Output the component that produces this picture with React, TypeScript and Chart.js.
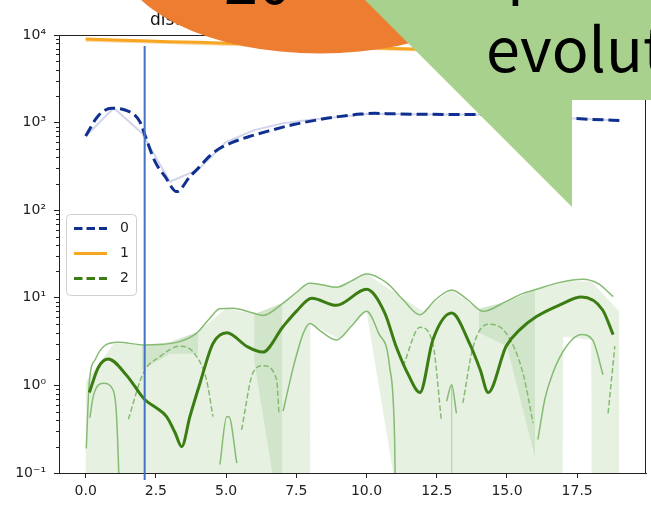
import React, { useEffect, useRef } from "react";
import { Chart, registerables } from "chart.js";

Chart.register(...registerables);

// ---------------- data ----------------
const xTickValues = [0, 2.5, 5, 7.5, 10, 12.5, 15, 17.5];
const yTickValues = [0.1, 1, 10, 100, 1000, 10000];
const yTickLabels = ["10⁻¹", "10⁰", "10¹", "10²", "10³", "10⁴"];
const legendLabels = ["0", "1", "2"];
const titleText = "distribution of the series over time";
const ellipseText = "20";
const calloutLines = ["profile", "evolution"];

const stepX = [0, 1, 2, 3, 4, 5, 6, 7, 8, 9, 10, 11, 12, 13, 14, 15, 16, 17, 18, 19];

// series 0 (navy)
const s0Raw = [700, 1470, 760, 211, 290, 600, 820, 980, 1080, 1160, 1250, 1250, 1240, 1235, 1230, 1195, 1165, 1130, 1095, 1055];
const s0SmoothX = [0, 0.45, 0.93, 1.4, 1.93, 2.11, 2.47, 2.83, 3.24, 3.71, 4.0, 4.43, 4.78, 5.2, 5.8, 6.56, 7.4, 8.16, 9.0, 9.8, 10.3, 11, 12, 13, 14, 15, 16, 17, 18, 19];
const s0SmoothY = [703, 1200, 1455, 1393, 1025, 720, 358, 241, 163, 241, 300, 420, 510, 590, 690, 810, 950, 1060, 1170, 1250, 1275, 1258, 1245, 1240, 1235, 1200, 1170, 1130, 1090, 1055];

// series 1 (orange)
const s1Line = [9000, 8780, 8620, 8400, 8250, 8040, 7880, 7690, 7540, 7350, 7210, 7030, 6890, 6720, 6590, 6430, 6310, 6150, 6030, 5880];
const s1Raw = [8600, 8450, 8250, 8100, 7900, 7750, 7550, 7400, 7250, 7080, 6950, 6780, 6640, 6480, 6350, 6200, 6080, 5930, 5800, 5680];

// series 2 (green) – mean
const meanX = [0.13, 0.45, 0.8, 1.46, 2.1, 2.53, 2.88, 3.18, 3.42, 3.71, 4.07, 4.53, 5.03, 5.73, 6.3, 7.03, 7.5, 8.05, 8.92, 10.0, 10.65, 11.05, 11.5, 11.9, 12.36, 13.03, 13.67, 14.05, 14.33, 14.97, 15.45, 16.05, 16.88, 17.65, 18.4, 18.78];
const meanY = [0.83, 1.6, 2.0, 1.3, 0.69, 0.55, 0.44, 0.29, 0.2, 0.44, 1.06, 3.0, 4.0, 2.8, 2.4, 4.7, 7.0, 9.9, 8.2, 12.5, 6.7, 2.8, 1.3, 0.83, 3.3, 6.7, 3.0, 1.5, 0.83, 2.8, 4.3, 6.1, 8.3, 10.2, 7.3, 3.8];

// upper bound
const upperX = [0.02, 0.13, 0.35, 0.65, 1.15, 2.1, 3.25, 3.95, 4.35, 4.78, 5.25, 5.95, 6.32, 7.03, 7.5, 7.98, 8.45, 8.92, 9.45, 10.0, 10.72, 11.3, 11.9, 12.45, 13.03, 13.6, 14.15, 14.97, 15.45, 16.05, 16.88, 17.7, 18.25, 18.78];
const upperY = [0.19, 1.1, 2.0, 2.8, 3.1, 2.9, 3.1, 3.95, 5.5, 7.5, 7.6, 6.7, 6.3, 8.7, 11.5, 14.7, 14.0, 13.2, 15.5, 18.7, 14.8, 9.5, 6.4, 9.5, 12.3, 9.5, 7.0, 9.1, 10.8, 12.5, 15.0, 16.3, 14.5, 10.3];

// lower bound (null = break)
const lowerX = [0.15, 0.27, 0.63, 0.98, 1.1, 1.25, 3, 4.78, 5.02, 5.1, 5.38, 6, 7.03, 7.4, 7.75, 7.98, 8.35, 8.92, 9.5, 10.0, 10.42, 10.82, 11.0, 11.05, 12, 12.85, 13.03, 13.2, 15, 16.1, 16.35, 16.63, 17.12, 17.65, 18.05, 18.42];
const lowerY = [0.43, 0.75, 1.06, 0.88, 0.44, 0.02, null, 0.125, 0.44, 0.44, 0.13, null, 0.51, 1.65, 3.95, 5.1, 4.2, 3.3, 4.9, 7.0, 4.0, 1.65, 0.24, 0.02, null, 0.66, 1.02, 0.48, null, 0.24, 0.7, 1.38, 2.8, 3.8, 3.3, 1.32];

// thin dashed (null = break)
const dashX = [1.52, 2.05, 2.65, 3.35, 3.83, 4.3, 4.53, 5, 5.55, 5.95, 6.32, 6.8, 6.88, 9, 11.3, 11.9, 12.36, 12.66, 13, 13.43, 13.8, 14.33, 14.97, 15.57, 15.93, 17, 18.6, 18.84];
const dashY = [0.41, 1.38, 2.14, 2.8, 2.4, 1.16, 0.44, null, 0.31, 1.38, 1.68, 1.16, 0.48, null, 1.65, 4.6, 3.0, 0.41, null, 0.63, 2.8, 5.0, 3.95, 1.38, 0.37, null, 0.48, 2.8];

// seam of the band
const seamX = [13.03, 13.03];
const seamY = [1.02, 0.01];

// shaded band (value ZERO = non-positive, falls off the log axis)
const ZERO = 1e-100;
const bandUpper = [1.1, 3.0, 2.9, 3.1, 4.1, 7.6, 6.5, 8.7, 14.7, 13.3, 18.7, 11.5, 7.0, 12.3, 7.5, 9.1, 12.3, 15.5, 15.3, 7.0];
const bandLower = [ZERO, ZERO, ZERO, ZERO, ZERO, ZERO, ZERO, ZERO, 5.1, 3.4, 7.0, 0.08, ZERO, ZERO, ZERO, ZERO, ZERO, 3.6, 3.3, ZERO];

// darker overlapping patches
const patchAX = [2, 3, 4];
const patchATop = [2.9, 3.1, 4.1];
const patchABottom = [1.5, 2.3, 2.3];
const patchBX = [6, 7];
const patchBTop = [6.5, 8.7];
const patchBBottom = [1.9, 0.02];
const patchCX = [14, 15, 16];
const patchCTop = [7.5, 9.1, 12.3];
const patchCBottom = [4.0, 2.8, 0.15];

// vertical marker position (data x)
const markerX = 2.1;

// ---------------- styles ----------------
const W = 651;
const H = 505;
const NAVY = "#10308f";
const ORANGE = "#f6a623";
const GREEN_DARK = "#3b7d12";
const GREEN_THIN = "#86bb73";
const BAND = "rgba(90,160,60,0.15)";
const NONE = "rgba(0,0,0,0)";

const pts = (xs: number[], ys: (number | null)[]) => xs.map((x, i) => ({ x, y: ys[i] }));

const ln = (data: any, o: any) => ({
  type: "line",
  data,
  pointRadius: 0,
  pointHoverRadius: 0,
  fill: false,
  spanGaps: false,
  tension: 0,
  ...o,
});

const datasets: any[] = [
  ln(pts(s0SmoothX, s0SmoothY), { borderColor: NAVY, borderWidth: 3, borderDash: [11, 5], cubicInterpolationMode: "monotone" }),
  ln(pts(stepX, s0Raw), { borderColor: "rgba(170,176,222,0.55)", borderWidth: 2 }),
  ln(pts(stepX, s1Line), { borderColor: ORANGE, borderWidth: 3 }),
  ln(pts(stepX, s1Raw), { borderColor: "rgba(250,200,120,0.7)", borderWidth: 2 }),
  ln(pts(meanX, meanY), { borderColor: GREEN_DARK, borderWidth: 3, cubicInterpolationMode: "monotone" }),
  ln(pts(dashX, dashY), { borderColor: GREEN_THIN, borderWidth: 1.5, borderDash: [5.5, 2.5], cubicInterpolationMode: "monotone" }),
  ln(pts(upperX, upperY), { borderColor: GREEN_THIN, borderWidth: 1.5, cubicInterpolationMode: "monotone" }),
  ln(pts(lowerX, lowerY), { borderColor: GREEN_THIN, borderWidth: 1.5, cubicInterpolationMode: "monotone" }),
  ln(pts(seamX, seamY), { borderColor: "rgba(130,185,110,0.5)", borderWidth: 1.2 }),
  ln(pts(patchAX, patchATop), { borderColor: NONE, borderWidth: 1, fill: "+1", backgroundColor: BAND }),
  ln(pts(patchAX, patchABottom), { borderColor: NONE, borderWidth: 1 }),
  ln(pts(patchBX, patchBTop), { borderColor: NONE, borderWidth: 1, fill: "+1", backgroundColor: BAND }),
  ln(pts(patchBX, patchBBottom), { borderColor: NONE, borderWidth: 1 }),
  ln(pts(patchCX, patchCTop), { borderColor: NONE, borderWidth: 1, fill: "+1", backgroundColor: BAND }),
  ln(pts(patchCX, patchCBottom), { borderColor: NONE, borderWidth: 1 }),
  ln(pts(stepX, bandUpper), { borderColor: NONE, borderWidth: 1, fill: "+1", backgroundColor: BAND }),
  ln(pts(stepX, bandLower), { borderColor: NONE, borderWidth: 1 }),
];

// overlay geometry (decorative shapes laid over the figure)
const ELLIPSE = { cx: 320, cy: -46.5, rx: 202, ry: 100, color: "#ED7D31" };
const CALLOUT = { color: "#A9D18E", pts: [[365, 0], [651, 0], [651, 100], [572, 100], [572, 207]] };
const MARKER = { top: 46, bottom: 480, color: "#4472C4" };

const decorPlugin = {
  id: "decor",
  beforeDraw(chart: any) {
    const ctx = chart.ctx;
    ctx.save();
    ctx.fillStyle = "#ffffff";
    ctx.fillRect(0, 0, W, H);
    ctx.restore();
  },
  afterDraw(chart: any) {
    const ctx = chart.ctx;
    const a = chart.chartArea;
    const ys = chart.scales.y;
    const xs = chart.scales.x;
    ctx.save();
    // minor log ticks
    ctx.strokeStyle = "#222";
    ctx.lineWidth = 1;
    for (let d = -1; d < 4; d++) {
      for (let m = 2; m <= 9; m++) {
        const py = Math.round(ys.getPixelForValue(m * Math.pow(10, d))) + 0.5;
        ctx.beginPath();
        ctx.moveTo(a.left - 3, py);
        ctx.lineTo(a.left, py);
        ctx.stroke();
      }
    }
    // top / right spines
    ctx.beginPath();
    ctx.moveTo(a.left, a.top + 0.5);
    ctx.lineTo(a.right, a.top + 0.5);
    ctx.moveTo(a.right - 0.5, a.top);
    ctx.lineTo(a.right - 0.5, a.bottom);
    ctx.stroke();

    // title
    ctx.fillStyle = "#111";
    ctx.font = '17px "DejaVu Sans"';
    ctx.textAlign = "left";
    ctx.textBaseline = "alphabetic";
    ctx.fillText(titleText, 150, 25);

    // legend
    const lx = 66.5, ly = 214.5, lw = 70, lh = 81;
    ctx.beginPath();
    ctx.roundRect(lx, ly, lw, lh, 4);
    ctx.fillStyle = "rgba(255,255,255,0.85)";
    ctx.fill();
    ctx.strokeStyle = "#d0d0d0";
    ctx.lineWidth = 1;
    ctx.stroke();
    const entries = [
      { color: NAVY, dash: [8.5, 4] },
      { color: ORANGE, dash: [] },
      { color: GREEN_DARK, dash: [8.5, 4] },
    ];
    entries.forEach((e, i) => {
      const y = 228.5 + i * 25;
      ctx.beginPath();
      ctx.setLineDash(e.dash);
      ctx.strokeStyle = e.color;
      ctx.lineWidth = 3;
      ctx.moveTo(74, y);
      ctx.lineTo(107, y);
      ctx.stroke();
      ctx.setLineDash([]);
      ctx.fillStyle = "#222";
      ctx.font = '14px "DejaVu Sans"';
      ctx.textBaseline = "middle";
      ctx.fillText(legendLabels[i], 120, y);
    });

    // vertical marker line
    const mx = xs.getPixelForValue(markerX);
    ctx.beginPath();
    ctx.strokeStyle = MARKER.color;
    ctx.lineWidth = 2;
    ctx.moveTo(mx, MARKER.top);
    ctx.lineTo(mx, MARKER.bottom);
    ctx.stroke();

    // orange ellipse with text
    ctx.beginPath();
    ctx.ellipse(ELLIPSE.cx, ELLIPSE.cy, ELLIPSE.rx, ELLIPSE.ry, 0, 0, Math.PI * 2);
    ctx.fillStyle = ELLIPSE.color;
    ctx.fill();
    ctx.fillStyle = "#000";
    ctx.font = '61px "Noto Sans CJK JP"';
    ctx.textBaseline = "alphabetic";
    ctx.fillText(ellipseText, 224, 4);

    // green callout with text
    ctx.beginPath();
    CALLOUT.pts.forEach((p, i) => (i === 0 ? ctx.moveTo(p[0], p[1]) : ctx.lineTo(p[0], p[1])));
    ctx.closePath();
    ctx.fillStyle = CALLOUT.color;
    ctx.fill();
    ctx.fillStyle = "#000";
    ctx.font = '61px "Noto Sans CJK JP"';
    ctx.fillText(calloutLines[0], 507, -8);
    ctx.fillText(calloutLines[1], 486, 72);
    ctx.restore();
  },
};

export default function App() {
  const ref = useRef<HTMLCanvasElement>(null);
  useEffect(() => {
    const tickFont = { family: "DejaVu Sans", size: 14 };
    const chart = new Chart(ref.current as HTMLCanvasElement, {
      type: "line",
      data: { datasets },
      options: {
        responsive: false,
        animation: false,
        devicePixelRatio: 1,
        events: [],
        layout: { padding: { left: 0, top: 35, right: 5, bottom: 0 } },
        plugins: {
          legend: { display: false },
          tooltip: { enabled: false },
          title: { display: false },
        },
        scales: {
          x: {
            type: "linear",
            min: -0.95,
            max: 19.95,
            afterBuildTicks: (s: any) => {
              s.ticks = xTickValues.map((v) => ({ value: v }));
            },
            afterFit: (s: any) => {
              s.height = 32;
            },
            ticks: {
              autoSkip: false,
              maxRotation: 0,
              padding: 5,
              color: "#222",
              font: tickFont,
              callback: (v: any) => Number(v).toFixed(1),
            },
            grid: { display: true, drawOnChartArea: false, drawTicks: true, tickLength: 5, tickColor: "#222", tickWidth: 1 },
            border: { display: true, color: "#222", width: 1 },
          },
          y: {
            type: "logarithmic",
            min: 0.1,
            max: 10000,
            afterBuildTicks: (s: any) => {
              s.ticks = yTickValues.map((v) => ({ value: v }));
            },
            afterFit: (s: any) => {
              s.width = 59;
            },
            ticks: {
              autoSkip: false,
              padding: 8,
              color: "#222",
              font: tickFont,
              callback: (_v: any, i: number) => yTickLabels[i],
            },
            grid: { display: true, drawOnChartArea: false, drawTicks: true, tickLength: 5, tickColor: "#222", tickWidth: 1 },
            border: { display: true, color: "#222", width: 1 },
          },
        },
      } as any,
      plugins: [decorPlugin],
    } as any);
    return () => chart.destroy();
  }, []);
  return (
    <div style={{ position: "absolute", left: 0, top: 0, width: W, height: H }}>
      <canvas ref={ref} width={W} height={H} style={{ display: "block" }} />
    </div>
  );
}
